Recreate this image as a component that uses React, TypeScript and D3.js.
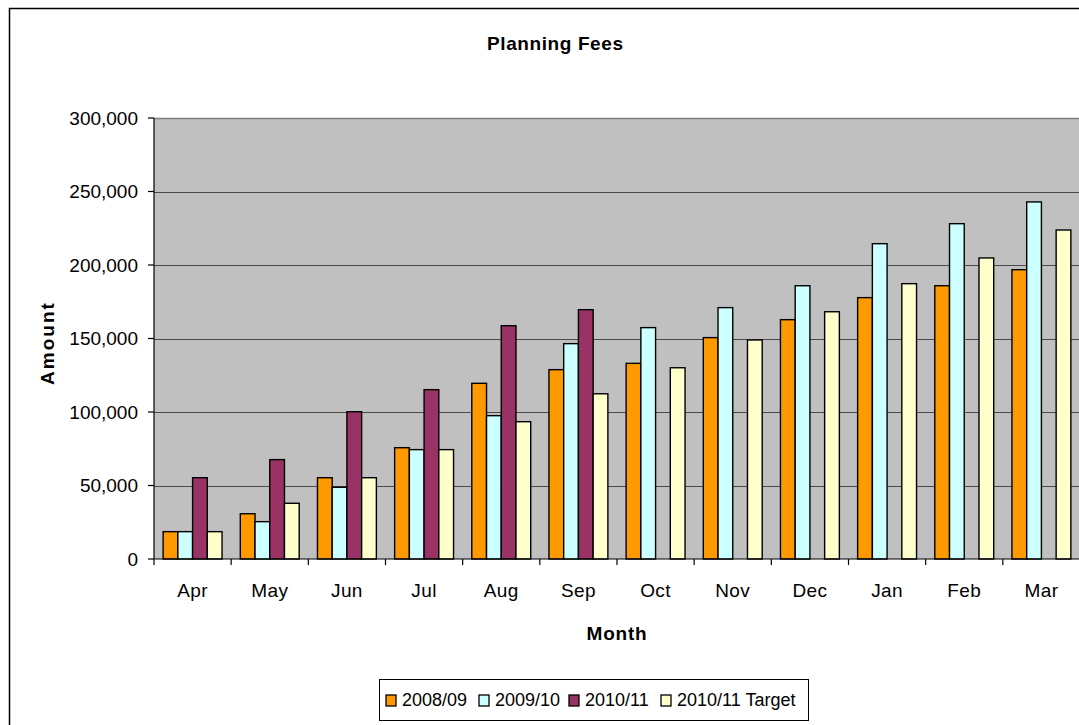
import React from "react";
import * as d3 from "d3";

// Monthly cumulative planning fee income (£)
const months = ["Apr", "May", "Jun", "Jul", "Aug", "Sep", "Oct", "Nov", "Dec", "Jan", "Feb", "Mar"];
const seriesNames = ["2008/09", "2009/10", "2010/11", "2010/11 Target"];
const fees0809 = [18600, 30800, 55300, 75700, 119500, 128800, 133100, 150600, 162800, 177800, 185900, 196800];
const fees0910 = [18600, 25400, 48800, 74400, 97500, 146500, 157400, 171000, 185900, 214500, 228100, 242900];
const fees1011: (number | null)[] = [55300, 67600, 100200, 115200, 158700, 169600, null, null, null, null, null, null];
const target1011 = [18600, 37900, 55300, 74400, 93400, 112400, 130100, 149000, 168200, 187300, 204800, 223800];
const yTicks = [0, 50000, 100000, 150000, 200000, 250000, 300000];
const colors = ["#FF9900", "#CCFFFF", "#993366", "#FFFFCC"];

const W = 1079;
const H = 725;
const plot = { left: 154, right: 1080, top: 118, bottom: 559 };
const FONT = "'Liberation Sans', Arial, Helvetica, sans-serif";
const legendX = [386, 479, 569, 661];

export default function App() {
  const allSeries = [fees0809, fees0910, fees1011, target1011];

  const x0 = d3.scaleBand<string>().domain(months).range([plot.left, plot.right]).padding(0);
  const x1 = d3
    .scaleBand<string>()
    .domain(seriesNames)
    .range([0, x0.bandwidth()])
    .paddingInner(0)
    .paddingOuter(0.62);
  const y = d3.scaleLinear().domain([0, 300000]).range([plot.bottom, plot.top]);
  const fmt = d3.format(",");

  const bandEdges = months.map((m) => x0(m) as number).concat([plot.right]);

  return (
    <svg
      width={W}
      height={H}
      style={{ position: "absolute", left: 0, top: 0, background: "#fff" }}
      fontFamily={FONT}
    >
      {/* chart frame */}
      <rect x={9.5} y={8.5} width={1200} height={800} fill="#fff" stroke="#000" strokeWidth={1.5} />

      {/* title */}
      <text x={487} y={50} fontSize={19} fontWeight="bold" letterSpacing={0.6} fill="#000">
        Planning Fees
      </text>

      {/* plot area */}
      <rect
        x={plot.left}
        y={plot.top}
        width={plot.right - plot.left}
        height={plot.bottom - plot.top}
        fill="#C0C0C0"
      />
      <line x1={plot.left} x2={plot.right} y1={plot.top + 0.5} y2={plot.top + 0.5} stroke="#808080" strokeWidth={1.5} />

      {/* gridlines */}
      {yTicks
        .filter((t) => t > 0 && t < 300000)
        .map((t) => (
          <line
            key={"g" + t}
            x1={plot.left}
            x2={plot.right}
            y1={Math.round(y(t)) + 0.5}
            y2={Math.round(y(t)) + 0.5}
            stroke="#4a4a4a"
            strokeWidth={1.2}
          />
        ))}

      {/* bars */}
      {months.map((m, i) => (
        <g key={m} transform={`translate(${x0(m)},0)`}>
          {allSeries.map((s, k) => {
            const v = s[i];
            if (v == null) return null;
            const bx = x1(seriesNames[k]) as number;
            return (
              <rect
                key={k}
                x={bx}
                y={y(v)}
                width={x1.bandwidth()}
                height={y(0) - y(v)}
                fill={colors[k]}
                stroke="#000"
                strokeWidth={1.4}
              />
            );
          })}
        </g>
      ))}

      {/* y axis */}
      <line x1={plot.left} x2={plot.left} y1={plot.top} y2={plot.bottom} stroke="#000" strokeWidth={1.2} />
      {yTicks.map((t) => (
        <g key={"y" + t}>
          <line x1={plot.left - 6} x2={plot.left} y1={y(t)} y2={y(t)} stroke="#000" strokeWidth={1.2} />
          <text
            x={plot.left - 16}
            y={y(t)}
            dy="0.36em"
            textAnchor="end"
            fontSize={19}
            fill="#000"
          >
            {fmt(t)}
          </text>
        </g>
      ))}

      {/* x axis */}
      <line x1={plot.left} x2={plot.right} y1={plot.bottom} y2={plot.bottom} stroke="#000" strokeWidth={1.2} />
      {bandEdges.map((bx, i) => (
        <line key={"xt" + i} x1={bx} x2={bx} y1={plot.bottom} y2={plot.bottom + 6} stroke="#000" strokeWidth={1.2} />
      ))}
      {months.map((m) => (
        <text
          key={"xl" + m}
          x={(x0(m) as number) + x0.bandwidth() / 2}
          y={597}
          textAnchor="middle"
          fontSize={19}
          letterSpacing={0.4}
          fill="#000"
        >
          {m}
        </text>
      ))}

      {/* axis titles */}
      <text x={617} y={640} textAnchor="middle" fontSize={19} fontWeight="bold" letterSpacing={0.8} fill="#000">
        Month
      </text>
      <text
        transform={`translate(54,343) rotate(-90)`}
        textAnchor="middle"
        fontSize={19}
        fontWeight="bold"
        letterSpacing={2}
        fill="#000"
      >
        Amount
      </text>

      {/* legend */}
      <rect x={379.5} y={679.5} width={429} height={41} fill="#fff" stroke="#000" strokeWidth={1} />
      {seriesNames.map((name, k) => (
        <g key={"lg" + k}>
          <rect x={legendX[k]} y={695} width={10} height={11} fill={colors[k]} stroke="#000" strokeWidth={1.3} />
          <text x={legendX[k] + 16} y={706} fontSize={18} fill="#000">
            {name}
          </text>
        </g>
      ))}
    </svg>
  );
}
